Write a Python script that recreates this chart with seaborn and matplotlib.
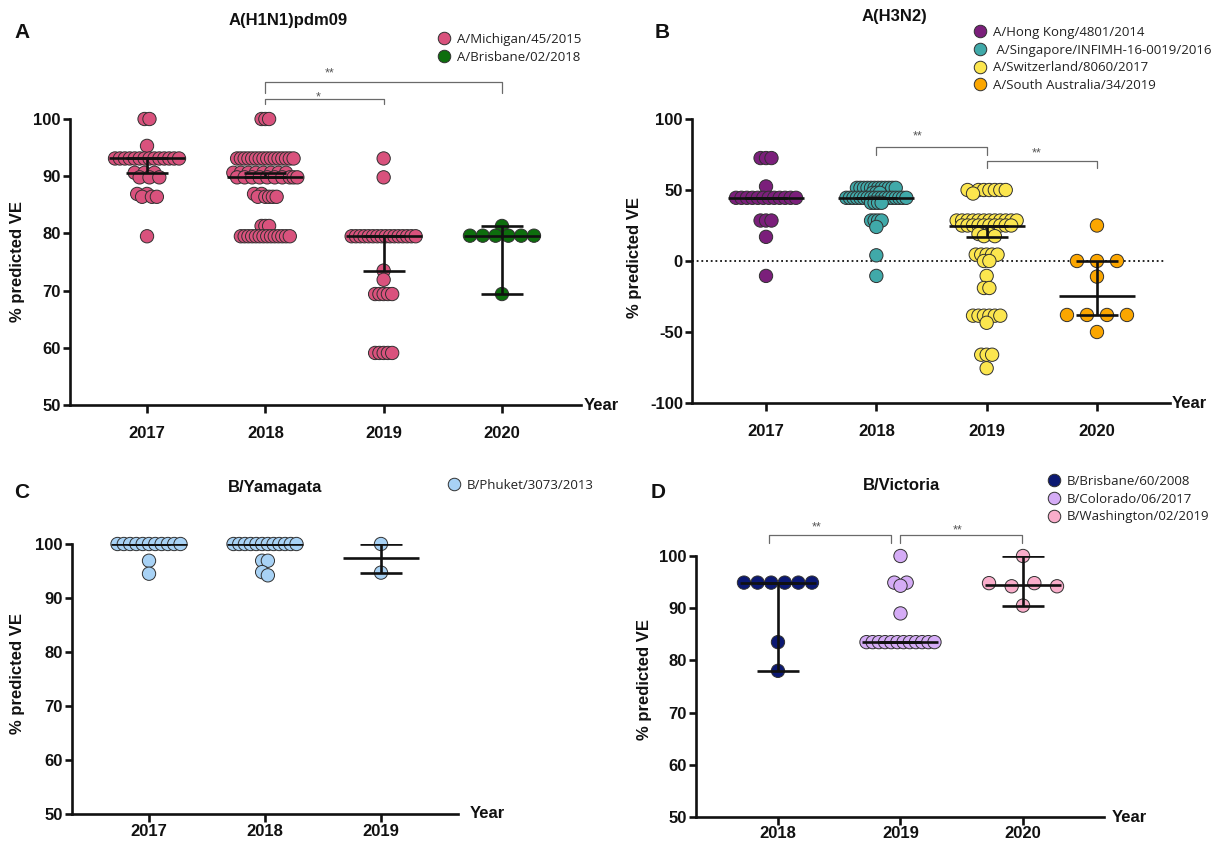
import numpy as np
import pandas as pd
import matplotlib
matplotlib.use("Agg")
import matplotlib.pyplot as plt
from matplotlib.lines import Line2D
import seaborn as sns

sns.set_theme(style="ticks")
plt.rcParams['font.family'] = ['Liberation Sans', 'DejaVu Sans']
plt.rcParams['axes.unicode_minus'] = False

# ---------------- data ----------------
# Panel A  A(H1N1)pdm09
a_years = ["2017", "2018", "2019", "2020"]
a_strains = ["A/Michigan/45/2015", "A/Brisbane/02/2018"]
a_year_strain = ["A/Michigan/45/2015", "A/Michigan/45/2015", "A/Michigan/45/2015", "A/Brisbane/02/2018"]
a17_vals = [100, 95.3, 93.1, 90.6, 89.8, 86.9, 86.4, 79.5]
a17_cnts = [2, 1, 14, 3, 3, 2, 3, 1]
a18_vals = [100, 93.1, 90.6, 89.8, 86.9, 86.4, 81.3, 79.5]
a18_cnts = [3, 16, 8, 10, 2, 5, 3, 14]
a19_vals = [93.1, 89.8, 79.5, 73.5, 71.9, 69.4, 59.1]
a19_cnts = [1, 1, 16, 1, 1, 5, 5]
a20_vals = [81.3, 79.6, 69.4]
a20_cnts = [1, 6, 1]
a_median = [93.1, 89.8, 79.5, 79.6]
a_lo = [90.6, 89.8, 73.5, 69.4]
a_hi = [93.1, 90.6, 79.5, 81.3]

# Panel B  A(H3N2)
b_years = ["2017", "2018", "2019", "2020"]
b_strains = ["A/Hong Kong/4801/2014", " A/Singapore/INFIMH-16-0019/2016",
             "A/Switzerland/8060/2017", "A/South Australia/34/2019"]
b_year_strain = b_strains
b17_vals = [72.5, 52.5, 44.5, 28.5, 17.0, -10.5]
b17_cnts = [3, 1, 12, 3, 1, 1]
b18_vals = [51.5, 48.0, 44.5, 41.0, 28.5, 24.0, 4.0, -10.5]
b18_cnts = [12, 3, 18, 4, 4, 1, 1, 1]
b19_vals = [50, 47.5, 28.5, 25, 19, 17.5, 4.5, 0, -10.5, -19, -38.5, -43.5, -66, -75.5]
b19_cnts = [7, 1, 12, 10, 2, 2, 5, 2, 1, 2, 6, 1, 3, 1]
b20_vals = [25, 0, -11, -38, -50]
b20_cnts = [1, 3, 1, 4, 1]
b_median = [44.5, 44.5, 25.0, -24.5]
b_lo = [44.5, 44.5, 17.1, -38.0]
b_hi = [44.5, 44.5, 25.0, 0.0]

# Panel C  B/Yamagata
c_years = ["2017", "2018", "2019"]
c_strains = ["B/Phuket/3073/2013"]
c_year_strain = ["B/Phuket/3073/2013"] * 3
c17_vals = [100, 96.9, 94.5]
c17_cnts = [11, 1, 1]
c18_vals = [100, 96.9, 94.8, 94.2]
c18_cnts = [12, 2, 1, 1]
c19_vals = [100, 94.7]
c19_cnts = [1, 1]
c_median = [100, 100, 97.35]
c_lo = [100, 100, 94.7]
c_hi = [100, 100, 100]

# Panel D  B/Victoria
d_years = ["2018", "2019", "2020"]
d_strains = ["B/Brisbane/60/2008", "B/Colorado/06/2017", "B/Washington/02/2019"]
d_year_strain = d_strains
d18_vals = [94.9, 83.5, 78.0]
d18_cnts = [6, 1, 1]
d19_vals = [100, 94.9, 94.3, 89.0, 83.5]
d19_cnts = [1, 2, 1, 1, 12]
d20_vals = [100, 94.8, 94.2, 90.5]
d20_cnts = [1, 2, 2, 1]
d_median = [94.9, 83.5, 94.5]
d_lo = [78.0, 83.5, 90.5]
d_hi = [94.9, 83.5, 100]

colors = {
    "A/Michigan/45/2015": "#D9527D",
    "A/Brisbane/02/2018": "#0D6E0D",
    "A/Hong Kong/4801/2014": "#7B1F7B",
    " A/Singapore/INFIMH-16-0019/2016": "#40A9A9",
    "A/Switzerland/8060/2017": "#FCE64E",
    "A/South Australia/34/2019": "#FBA600",
    "B/Phuket/3073/2013": "#A8D2F5",
    "B/Brisbane/60/2008": "#0B1872",
    "B/Colorado/06/2017": "#D5ACF6",
    "B/Washington/02/2019": "#F9ADCA",
}

panels = {
    "A": dict(years=a_years, strains=a_strains, ys=a_year_strain,
              groups=[(a17_vals, a17_cnts), (a18_vals, a18_cnts), (a19_vals, a19_cnts), (a20_vals, a20_cnts)],
              med=a_median, lo=a_lo, hi=a_hi, title="A(H1N1)pdm09"),
    "B": dict(years=b_years, strains=b_strains, ys=b_year_strain,
              groups=[(b17_vals, b17_cnts), (b18_vals, b18_cnts), (b19_vals, b19_cnts), (b20_vals, b20_cnts)],
              med=b_median, lo=b_lo, hi=b_hi, title="A(H3N2)"),
    "C": dict(years=c_years, strains=c_strains, ys=c_year_strain,
              groups=[(c17_vals, c17_cnts), (c18_vals, c18_cnts), (c19_vals, c19_cnts)],
              med=c_median, lo=c_lo, hi=c_hi, title="B/Yamagata"),
    "D": dict(years=d_years, strains=d_strains, ys=d_year_strain,
              groups=[(d18_vals, d18_cnts), (d19_vals, d19_cnts), (d20_vals, d20_cnts)],
              med=d_median, lo=d_lo, hi=d_hi, title="B/Victoria"),
}

# ---------------- layout / style ----------------
W, H = 1225, 844
layout = {
    "A": dict(px=(70, 581, 119, 405), xlim=(-0.651, 3.668), ylim=(50, 100), yticks=[50, 60, 70, 80, 90, 100],
              span=64, title_xy=(288, 20), letter_xy=(22, 33), ylab_xy=(18, 262), year_x=584, legend_xy=(439, 33),
              xpad=9,
              brackets=[(1, 3, 106.5, 104.5, "**", 1.54, 108.6), (1, 2, 103.5, 102.6, "*", 1.445, 104.5)]),
    "B": dict(px=(692, 1170, 119, 403), xlim=(-0.671, 3.662), ylim=(-100, 100), yticks=[-100, -50, 0, 50, 100],
              span=60, title_xy=(894, 16), letter_xy=(662, 33), ylab_xy=(634, 258), year_x=1172, legend_xy=(975, 26),
              xpad=9,
              brackets=[(1, 2, 80.3, 74.6, "**", 1.37, 90.8), (2, 3, 70.4, 65.5, "**", 2.456, 78.9)]),
    "C": dict(px=(72, 458, 544, 814), xlim=(-0.664, 2.664), ylim=(50, 100), yticks=[50, 60, 70, 80, 90, 100],
              span=63, title_xy=(275, 487), letter_xy=(22, 493), ylab_xy=(18, 673), year_x=470, legend_xy=(449, 479),
              xpad=1.5, brackets=[]),
    "D": dict(px=(696, 1104, 556, 817), xlim=(-0.669, 2.661), ylim=(50, 100), yticks=[50, 60, 70, 80, 90, 100],
              span=68, title_xy=(901, 486), letter_xy=(658, 493), ylab_xy=(644, 680), year_x=1112, legend_xy=(1049, 475),
              xpad=0.5,
              brackets=[(-0.07, 0.92, 104.0, 102.5, "**", 0.318, 106.3), (1.0, 1.99, 104.0, 102.5, "**", 1.47, 105.7)]),
}


def swarm_offsets(vals, ppu, ppc, span_px, thr_px=4.8):
    vals = np.asarray(vals, float)
    order = np.argsort(-vals, kind="stable")
    bins = []
    for i in order:
        if bins and (vals[bins[-1][0]] - vals[i]) * ppu <= thr_px:
            bins[-1].append(i)
        else:
            bins.append([i])
    nmax = max(len(bb) for bb in bins)
    step = span_px / (nmax - 1) if nmax > 1 else 0.0
    off = np.zeros(len(vals))
    for bb in bins:
        grp = {}
        for i in bb:
            grp.setdefault(vals[i], []).append(i)
        lists = [list(v) for v in grp.values()]
        seq = []
        while any(lists):
            for li in lists:
                if li:
                    seq.append(li.pop(0))
        n = len(seq)
        for j, i in enumerate(seq):
            off[i] = (j - (n - 1) / 2) * step / ppc
    return off


fig = plt.figure(figsize=(W / 100, H / 100), dpi=100)
fig.patch.set_facecolor("white")

for key, p in panels.items():
    lay = layout[key]
    l, r, t, b = lay["px"]
    ax = fig.add_axes([l / W, 1 - b / H, (r - l) / W, (b - t) / H])
    ax.set_xlim(*lay["xlim"])
    ax.set_ylim(*lay["ylim"])
    ppc = (r - l) / (lay["xlim"][1] - lay["xlim"][0])
    ppu = (b - t) / (lay["ylim"][1] - lay["ylim"][0])

    recs = []
    for gi, ((vals, cnts), strain) in enumerate(zip(p["groups"], p["ys"])):
        v = np.repeat(np.asarray(vals, float), cnts)
        off = swarm_offsets(v, ppu, ppc, lay["span"])
        for vv, oo in zip(v, off):
            recs.append(dict(x=gi + oo, value=vv, strain=strain))
    d = pd.DataFrame(recs)

    if key == "B":
        ax.plot([lay["xlim"][0], 3.62], [0, 0], color="#111111", lw=1.3,
                ls=(0, (1, 1.6)), zorder=1)

    sns.scatterplot(data=d, x="x", y="value", hue="strain", hue_order=p["strains"],
                    palette=colors, s=92, edgecolor="#303030", linewidth=0.7,
                    ax=ax, zorder=3, clip_on=False, legend=False)

    # median with 95% CI
    hw, cw = 38 / ppc, 21 / ppc
    for i, (m, lo, hi) in enumerate(zip(p["med"], p["lo"], p["hi"])):
        ax.hlines(m, i - hw, i + hw, color="#111111", lw=1.9, zorder=5)
        ax.hlines([lo, hi], i - cw, i + cw, color="#111111", lw=1.9, zorder=5)
        ax.vlines(i, lo, hi, color="#111111", lw=1.9, zorder=5)

    # significance brackets
    for (x1, x2, yb, yt, txt, tx, ty) in lay["brackets"]:
        ax.plot([x1, x1, x2, x2], [yt, yb, yb, yt], color="#6a6a6a", lw=0.9,
                clip_on=False, zorder=2)
        ax.text(tx, ty - 4 / ppu, txt, ha="center", va="center", fontsize=9,
                color="#555555", clip_on=False)

    # axes styling
    ax.set_xlabel("")
    ax.set_ylabel("")
    ax.set_xticks(range(len(p["years"])))
    ax.set_xticklabels(p["years"], fontsize=12, fontweight="bold")
    ax.set_yticks(lay["yticks"])
    ax.set_yticklabels([str(v) for v in lay["yticks"]], fontsize=12, fontweight="bold")
    for s in ["top", "right"]:
        ax.spines[s].set_visible(False)
    for s in ["left", "bottom"]:
        ax.spines[s].set_linewidth(1.9)
        ax.spines[s].set_color("#111111")
    ax.tick_params(axis="x", direction="out", length=6, width=1.9, pad=lay["xpad"], colors="#111111")
    ax.tick_params(axis="y", direction="out", length=5, width=1.9, pad=1.5, colors="#111111")
    ax.set_facecolor("none")

    # texts
    fig.text(lay["year_x"] / W, 1 - b / H, "Year", ha="left", va="center",
             fontsize=12, fontweight="bold", color="#111111")
    fig.text(lay["ylab_xy"][0] / W, 1 - lay["ylab_xy"][1] / H, "% predicted VE",
             rotation=90, ha="center", va="center", fontsize=12, fontweight="bold", color="#111111")
    fig.text(lay["title_xy"][0] / W, 1 - lay["title_xy"][1] / H, p["title"],
             ha="center", va="center", fontsize=12, fontweight="bold", color="#111111")
    fig.text(lay["letter_xy"][0] / W, 1 - lay["letter_xy"][1] / H, key,
             ha="center", va="center", fontsize=15, fontweight="bold", color="#111111")

    # legend
    handles = [Line2D([], [], marker="o", ls="none", markersize=9,
                      markerfacecolor=colors[s], markeredgecolor="#303030",
                      markeredgewidth=0.7) for s in p["strains"]]
    ax.legend(handles, p["strains"], loc="upper left",
              bbox_to_anchor=(lay["legend_xy"][0] / W, 1 - lay["legend_xy"][1] / H),
              bbox_transform=fig.transFigure, frameon=False, borderpad=0, borderaxespad=0,
              handlelength=0.8, handletextpad=0.55, labelspacing=0.35,
              prop={"family": ["Open Sans", "DejaVu Sans"], "size": 9.5}, labelcolor="#222222")

fig.savefig("out.png", dpi=100, facecolor="white")
